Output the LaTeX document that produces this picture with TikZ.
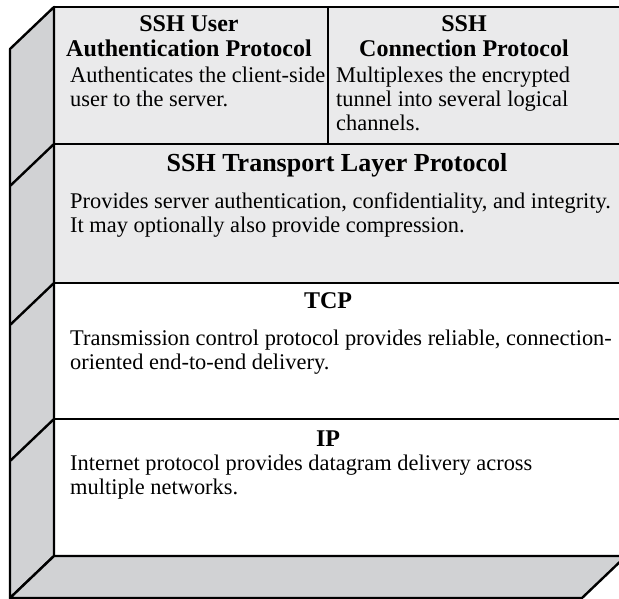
\documentclass[tikz,border=0pt]{standalone}
\usepackage{fontspec}
\setmainfont{Liberation Serif}
\usetikzlibrary{positioning}
\definecolor{sidegray}{RGB}{209,210,212}
\definecolor{boxgray}{RGB}{234,234,235}

\begin{document}
\begin{tikzpicture}[x=1pt,y=-1pt,line width=2.4pt,line join=round,
  layer/.style={draw,inner sep=0pt,outer sep=0pt,anchor=north west},
  head/.style={font=\fontsize{24}{25}\selectfont\bfseries,align=center,inner sep=0pt,anchor=base},
  body/.style={font=\fontsize{22.4}{24}\selectfont,align=left,inner sep=0pt,anchor=base west}]
  \useasboundingbox (0,0) rectangle (619,599);
  \clip (0,0) rectangle (619,599);
  % front of the stack
  \node[layer,fill=boxgray,minimum width=274pt,minimum height=137pt] (user) at (54,7) {};
  \node[layer,fill=boxgray,minimum width=298pt,minimum height=137pt] (conn) at (user.north east) {};
  \node[layer,fill=boxgray,minimum width=572pt,minimum height=139pt] (trans) at (user.south west) {};
  \node[layer,fill=white,minimum width=572pt,minimum height=136pt] (tcp) at (trans.south west) {};
  \node[layer,fill=white,minimum width=572pt,minimum height=137pt] (ip) at (tcp.south west) {};
  % side and bottom faces
  \coordinate (base) at (10,598);
  \draw[fill=sidegray] (user.north west) -- ++(-44,42) -- (base) -- (ip.south west) -- cycle;
  \draw[fill=sidegray] (ip.south west) -- (ip.south east) -- ++(-44,42) -- (base) -- cycle;
  \foreach \lay in {user,trans,tcp}
    \draw (\lay.south west) -- ++(-44,42);
  % texts (multi-line nodes sit on their last line)
  \node[head] (userhead) at (189,57) {SSH User\\Authentication Protocol};
  \node[body] (userbody) at (69,107) {Authenticates the client-side\\user to the server.};
  \node[head] (connhead) at (464,57) {SSH\\Connection Protocol};
  \node[body] (connbody) at (335,131) {Multiplexes the encrypted\\tunnel into several logical\\channels.};
  \node[head,font=\fontsize{26}{27}\selectfont\bfseries] (transhead) at (337,172) {SSH Transport Layer Protocol};
  \node[body] (transbody) at (69,233) {Provides server authentication, confidentiality, and integrity.\\It may optionally also provide compression.};
  \node[head] (tcphead) at (328,308) {TCP};
  \node[body] (tcpbody) at (69,369) {Transmission control protocol provides reliable, connection-\\oriented end-to-end delivery.};
  \node[head] (iphead) at (328,446) {IP};
  \node[body] (ipbody) at (69,494) {Internet protocol provides datagram delivery across\\multiple networks.};
\end{tikzpicture}
\end{document}
